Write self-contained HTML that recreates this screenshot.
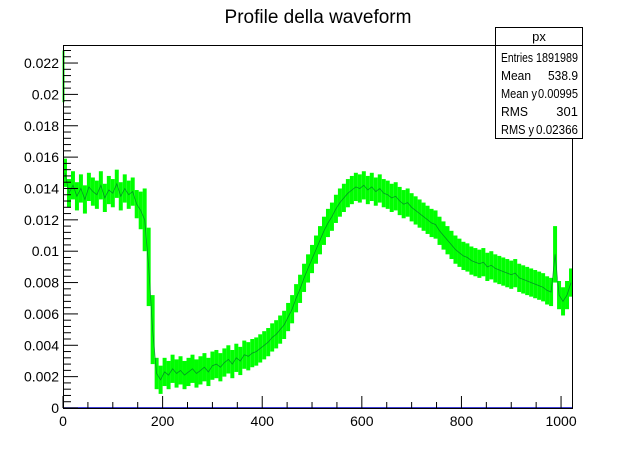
<!DOCTYPE html>
<html><head><meta charset="utf-8"><style>
html,body{margin:0;padding:0;background:#fff}
svg{display:block;font-family:"Liberation Sans",sans-serif}
</style></head><body>
<svg id="c" width="636" height="454" viewBox="0 0 636 454">
<rect width="636" height="454" fill="#fff"/>
<text x="318" y="23" font-size="19" text-anchor="middle">Profile della waveform</text>
<g id="plot"></g>
<g id="axes"></g>
<g>
<rect x="495.5" y="27.5" width="87" height="111" fill="#fff" stroke="#000"/>
<line x1="495.5" y1="45.5" x2="582.5" y2="45.5" stroke="#000"/>
<text x="539" y="41" font-size="13" text-anchor="middle">px</text>
<g font-size="13">
<text x="501" y="62" textLength="32" lengthAdjust="spacingAndGlyphs">Entries</text><text x="578" y="62" text-anchor="end" textLength="42" lengthAdjust="spacingAndGlyphs">1891989</text>
<text x="501" y="80" textLength="30" lengthAdjust="spacingAndGlyphs">Mean</text><text x="578" y="80" text-anchor="end" textLength="30" lengthAdjust="spacingAndGlyphs">538.9</text>
<text x="501" y="98" textLength="36" lengthAdjust="spacingAndGlyphs">Mean y</text><text x="578" y="98" text-anchor="end" textLength="40" lengthAdjust="spacingAndGlyphs">0.00995</text>
<text x="501" y="116" textLength="27" lengthAdjust="spacingAndGlyphs">RMS</text><text x="578" y="116" text-anchor="end">301</text>
<text x="501" y="134" textLength="33" lengthAdjust="spacingAndGlyphs">RMS y</text><text x="578" y="134" text-anchor="end" textLength="42" lengthAdjust="spacingAndGlyphs">0.02366</text>
</g></g>
</svg>
<script>
const binWidth = 8;
const values = [
0.0150,0.0137,0.0142,0.0135,0.0140,0.0133,0.0141,0.0138,
0.0136,0.0142,0.0134,0.0139,0.0137,0.0143,0.0135,0.0140,
0.0136,0.0138,0.0130,0.0126,0.0120,0.0090,0.0050,0.0022,
0.0018,0.0023,0.0021,0.0025,0.0022,0.0024,0.0021,0.0023,
0.0025,0.0022,0.0024,0.0026,0.0023,0.0027,0.0028,0.0026,
0.0029,0.0031,0.0028,0.0032,0.0030,0.0034,0.0033,0.0035,
0.0036,0.0038,0.0040,0.0042,0.0045,0.0047,0.0050,0.0053,
0.0058,0.0063,0.0070,0.0076,0.0083,0.0089,0.0095,0.0101,
0.0107,0.0113,0.0118,0.0122,0.0127,0.0131,0.0134,0.0137,
0.0139,0.0141,0.0140,0.0142,0.0139,0.0141,0.0138,0.0140,
0.0137,0.0136,0.0134,0.0135,0.0132,0.0130,0.0131,0.0128,
0.0126,0.0124,0.0122,0.0120,0.0118,0.0117,0.0113,0.0110,
0.0107,0.0104,0.0101,0.0099,0.0097,0.0096,0.0094,0.0093,
0.0092,0.0093,0.0090,0.0091,0.0089,0.0088,0.0087,0.0086,
0.0085,0.0086,0.0083,0.0082,0.0081,0.0080,0.0079,0.0078,
0.0077,0.0075,0.0074,0.0098,0.0072,0.0068,0.0072,0.0080];
const errors = [
0.0009,0.0009,0.0009,0.0009,0.0009,0.0009,0.0009,0.0009,
0.0009,0.0009,0.0009,0.0009,0.0009,0.0009,0.0009,0.0009,
0.0009,0.0009,0.0009,0.0012,0.0020,0.0025,0.0022,0.0010,
0.0009,0.0009,0.0009,0.0009,0.0009,0.0009,0.0009,0.0009,
0.0009,0.0009,0.0009,0.0009,0.0009,0.0009,0.0009,0.0009,
0.0009,0.0009,0.0009,0.0009,0.0009,0.0009,0.0009,0.0009,
0.0009,0.0009,0.0009,0.0009,0.0009,0.0009,0.0009,0.0009,
0.0009,0.0009,0.0009,0.0009,0.0009,0.0009,0.0009,0.0009,
0.0009,0.0009,0.0009,0.0009,0.0009,0.0009,0.0009,0.0009,
0.0009,0.0009,0.0009,0.0009,0.0009,0.0009,0.0009,0.0009,
0.0009,0.0009,0.0009,0.0009,0.0009,0.0009,0.0009,0.0009,
0.0009,0.0009,0.0009,0.0009,0.0009,0.0009,0.0009,0.0009,
0.0009,0.0009,0.0009,0.0009,0.0009,0.0009,0.0009,0.0009,
0.0009,0.0009,0.0009,0.0009,0.0009,0.0009,0.0009,0.0009,
0.0009,0.0009,0.0009,0.0009,0.0009,0.0009,0.0009,0.0009,
0.0009,0.0009,0.0009,0.0018,0.0009,0.0009,0.0009,0.0009];
const xTicks = [0,200,400,600,800,1000];
const yTicks = [0,0.002,0.004,0.006,0.008,0.01,0.012,0.014,0.016,0.018,0.02,0.022];
const yTickLabels = ["0","0.002","0.004","0.006","0.008","0.01","0.012","0.014","0.016","0.018","0.02","0.022"];

const L=63,R=573,T=45,B=408,XMAX=1024,YMAX=0.02315;
const sx=v=>L+v/XMAX*(R-L);
const sy=v=>B-v/YMAX*(B-T);
const NS="http://www.w3.org/2000/svg";
function mk(tag,attrs,parent){const e=document.createElementNS(NS,tag);for(const k in attrs)e.setAttribute(k,attrs[k]);parent.appendChild(e);return e;}
const plot=document.getElementById('plot'), axes=document.getElementById('axes');
const sp=mk('line',{x1:sx(1),x2:sx(1),y1:sy(0.0195),y2:sy(0.0228),stroke:'#00ff00','stroke-width':2},plot);


let pts=[];
values.forEach((v,i)=>{
  const xc=sx((i+0.5)*binWidth), w=sx(binWidth)-sx(0);
  const r=mk('rect',{x:xc-w/2,y:sy(v+errors[i]),width:w,height:sy(v-errors[i])-sy(v+errors[i]),fill:'#00ff00'},plot);
  
  
  pts.push(xc.toFixed(1)+','+sy(v).toFixed(1));
});
const pl=mk('polyline',{points:pts.join(' '),fill:'none',stroke:'#063',"stroke-width":0.8,opacity:0.7},plot);


const bl=mk('line',{x1:L,x2:R,y1:B,y2:B,stroke:'#0000cc','stroke-width':1.5},axes);


const fr=mk('rect',{x:L+0.5,y:T+0.5,width:R-L-1,height:B-T,fill:'none',stroke:'#000'},axes);


for(let v=0;v<=XMAX;v+=50){
  const major=v%200===0;
  mk('line',{x1:sx(v),x2:sx(v),y1:B,y2:B-(major?12:6),stroke:'#000'},axes);
}
xTicks.forEach(v=>{
  const t=mk('text',{x:sx(v),y:B+18,'font-size':14,'text-anchor':'middle'},axes);t.textContent=v;
  
  
});
for(let k=0;k*0.0004<=YMAX+1e-9;k++){
  const v=k*0.0004, major=k%5===0;
  mk('line',{x1:L,x2:L+(major?15:8),y1:sy(v),y2:sy(v),stroke:'#000'},axes);
}
yTicks.forEach((v,i)=>{
  const t=mk('text',{x:L-4,y:sy(v)+5,'font-size':14,'text-anchor':'end'},axes);t.textContent=yTickLabels[i];
  
  
});
</script>
</body></html>
